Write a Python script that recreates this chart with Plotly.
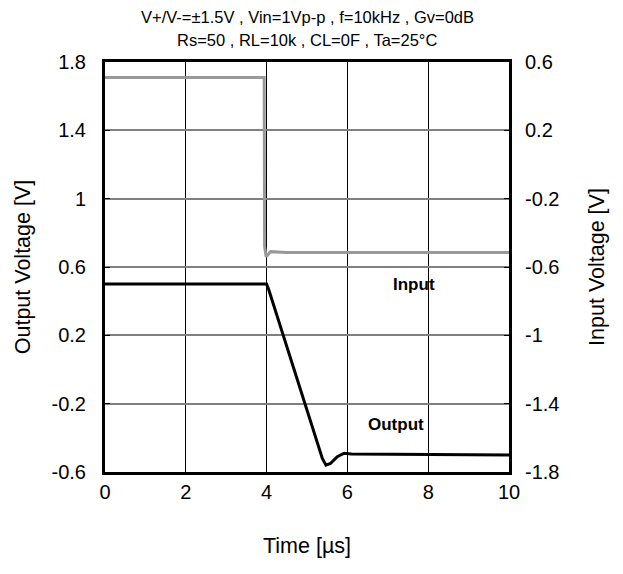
import plotly.graph_objects as go

# Data
time_in = [0, 3.94, 3.95, 3.99, 4.1, 4.5, 10]
input_v = [0.51, 0.51, -0.48, -0.54, -0.51, -0.515, -0.515]

time_out = [0, 4.0, 4.05, 5.38, 5.47, 5.58, 5.75, 5.92, 6.1, 10]
output_v = [0.5, 0.5, 0.47, -0.52, -0.56, -0.55, -0.51, -0.49, -0.495, -0.5]

x_ticks = [0, 2, 4, 6, 8, 10]
y_left_ticks = [-0.6, -0.2, 0.2, 0.6, 1.0, 1.4, 1.8]
y_left_labels = ["-0.6", "-0.2", "0.2", "0.6", "1", "1.4", "1.8"]
y_right_ticks = [-1.8, -1.4, -1.0, -0.6, -0.2, 0.2, 0.6]
y_right_labels = ["-1.8", "-1.4", "-1", "-0.6", "-0.2", "0.2", "0.6"]

title_lines = ["V+/V-=±1.5V , Vin=1Vp-p , f=10kHz , Gv=0dB",
               "Rs=50 , RL=10k , CL=0F , Ta=25°C"]

FONT = "Liberation Sans, Arial, sans-serif"
TICK = 20
AXT = 21.5

fig = go.Figure()
fig.add_trace(go.Scatter(x=time_in, y=input_v, mode="lines", yaxis="y2",
                         line=dict(color="#999999", width=3), name="Input"))
fig.add_trace(go.Scatter(x=time_out, y=output_v, mode="lines", yaxis="y",
                         line=dict(color="#000000", width=3), name="Output"))

fig.update_layout(
    width=615, height=558,
    margin=dict(l=97, r=114, t=54, b=81),
    paper_bgcolor="white", plot_bgcolor="white",
    showlegend=False,
    font=dict(family=FONT, color="black", size=TICK),
    xaxis=dict(range=[0, 10], tickvals=x_ticks, showgrid=True,
               gridcolor="black", gridwidth=1, zeroline=False,
               showline=True, linecolor="black", linewidth=3, mirror=True,
               ticks="", tickfont=dict(size=TICK), ticklabelstandoff=0,
               title=dict(text="Time [µs]", font=dict(size=AXT), standoff=36)),
    yaxis=dict(range=[-0.6, 1.8], tickvals=y_left_ticks, ticktext=y_left_labels,
               showgrid=True, gridcolor="#808080", gridwidth=1.5, zeroline=False,
               showline=True, linecolor="black", linewidth=3,
               ticks="inside", ticklen=5, tickcolor="black",
               tickfont=dict(size=TICK), ticklabelstandoff=12,
               title=dict(text="Output Voltage [V]", font=dict(size=AXT), standoff=16)),
    yaxis2=dict(range=[-1.8, 0.6], tickvals=y_right_ticks, ticktext=y_right_labels,
                overlaying="y", side="right", showgrid=False, zeroline=False,
                showline=True, linecolor="black", linewidth=3,
                ticks="inside", ticklen=5, tickcolor="black",
                tickfont=dict(size=TICK), ticklabelstandoff=9,
                title=dict(text="Input Voltage [V]", font=dict(size=AXT), standoff=31)),
)

fig.add_annotation(text=title_lines[0], xref="paper", yref="paper", x=0.5, y=1,
                   yshift=45.5, showarrow=False, font=dict(size=16.5), yanchor="middle")
fig.add_annotation(text=title_lines[1], xref="paper", yref="paper", x=0.5, y=1,
                   yshift=22, showarrow=False, font=dict(size=16.5), yanchor="middle")
fig.add_annotation(text="<b>Input</b>", x=7.65, y=0.5, xref="x", yref="y",
                   showarrow=False, font=dict(size=17))
fig.add_annotation(text="<b>Output</b>", x=7.2, y=-0.32, xref="x", yref="y",
                   showarrow=False, font=dict(size=17))

fig.write_html("out.html")
